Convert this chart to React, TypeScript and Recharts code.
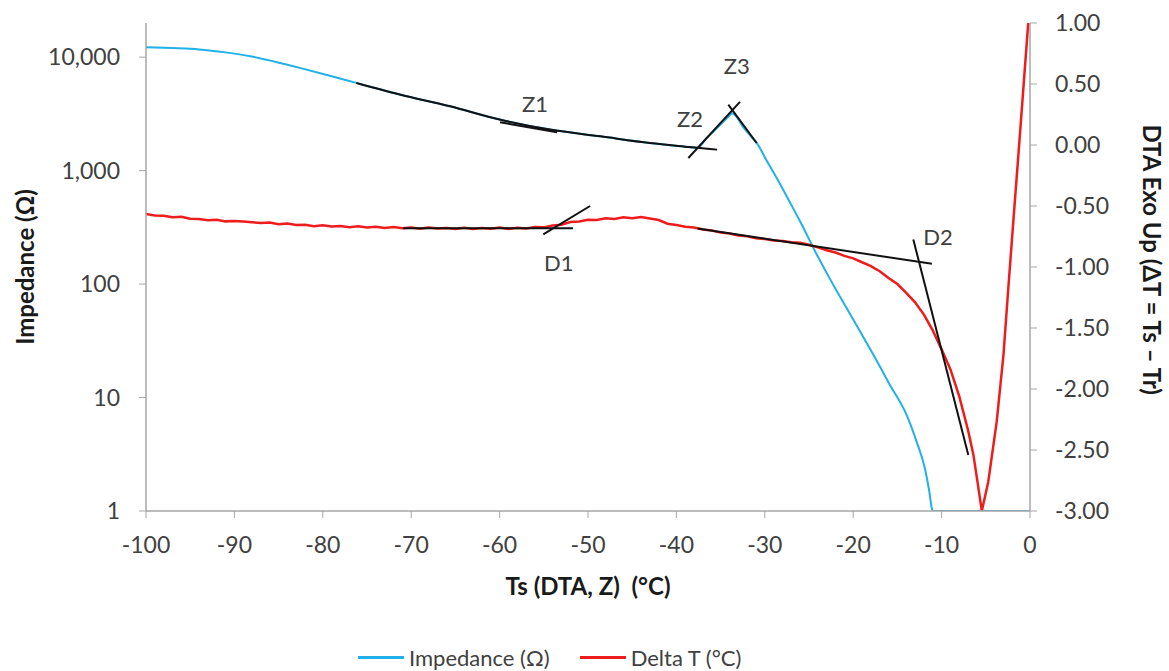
import { LineChart, Line, XAxis, YAxis, Legend, ReferenceDot } from 'recharts'

const xTicks = [-100, -90, -80, -70, -60, -50, -40, -30, -20, -10, 0]
const zTicks = [1, 10, 100, 1000, 10000]
const dtTicks = [-3, -2.5, -2, -1.5, -1, -0.5, 0, 0.5, 1]
const seriesOrder = ['Impedance (Ω)', 'Delta T (°C)']

// [Ts (°C), impedance (Ω)]
const impedance: [number, number][] = [
  [-100, 12250], [-97, 12020], [-94, 11700], [-91, 11020], [-88.2, 10200], [-85.4, 9120],
  [-82.6, 8050], [-79.4, 6920], [-76.2, 5930], [-71.3, 4690], [-65.6, 3690], [-60, 2820],
  [-54.3, 2300], [-48.6, 2005], [-43, 1750], [-38.5, 1610], [-37.6, 1590], [-36.7, 1890],
  [-35.7, 2255], [-34.7, 2690], [-34.1, 3000], [-33.7, 3200], [-33.3, 3050], [-32.5, 2455],
  [-31.5, 1977], [-30.9, 1750], [-29.8, 1230], [-28.65, 859], [-27.3, 550], [-26, 356],
  [-24.3, 194], [-22.6, 110], [-21.5, 77.6], [-19.2, 38], [-17.7, 23.7], [-15.84, 12.9],
  [-13.95, 7.0], [-12.82, 4.07], [-11.88, 2.36], [-11.4, 1.5], [-11.1, 1.05], [-11, 1],
  [-5, 1], [0, 1],
]

// [Ts (°C), ΔT (°C)]
const deltaT: [number, number][] = [
  [-100, -0.566], [-99, -0.578], [-98, -0.580], [-97, -0.592], [-96, -0.589], [-95, -0.605],
  [-94, -0.607], [-93, -0.617], [-92, -0.613], [-91, -0.626], [-90, -0.622], [-89, -0.628],
  [-88, -0.634], [-87, -0.639], [-86, -0.636], [-85, -0.650], [-84, -0.644], [-83, -0.656],
  [-82, -0.653], [-81, -0.665], [-80, -0.657], [-79, -0.668], [-78, -0.664], [-77, -0.675],
  [-76, -0.667], [-75, -0.676], [-74, -0.671], [-73, -0.681], [-72, -0.672], [-71, -0.682],
  [-70, -0.677], [-69, -0.687], [-68, -0.677], [-67, -0.685], [-66, -0.680], [-65, -0.689],
  [-64, -0.679], [-63, -0.688], [-62, -0.681], [-61, -0.687], [-60, -0.677], [-59, -0.688],
  [-58, -0.678], [-57, -0.684], [-56, -0.673], [-55, -0.675], [-54, -0.660], [-53, -0.653],
  [-52, -0.631], [-51, -0.627], [-50, -0.613], [-49, -0.614], [-48, -0.600], [-47, -0.607],
  [-46, -0.593], [-45, -0.601], [-44, -0.590], [-43, -0.603], [-42, -0.615], [-41, -0.645],
  [-40, -0.656], [-39, -0.670], [-38, -0.677], [-37, -0.693], [-36, -0.701], [-35, -0.718],
  [-34, -0.725], [-33, -0.742], [-32, -0.749], [-31, -0.764], [-30, -0.770], [-29, -0.783],
  [-28, -0.787], [-27, -0.798], [-26, -0.802], [-25, -0.818], [-24, -0.839], [-23, -0.863],
  [-22, -0.881], [-21, -0.909], [-20, -0.929], [-19, -0.961], [-18, -0.993], [-17, -1.035],
  [-16, -1.090], [-15, -1.140], [-14, -1.212], [-13, -1.290], [-12, -1.390], [-11, -1.520],
  [-10, -1.675], [-9, -1.840], [-8, -2.060], [-7, -2.340], [-6.4, -2.540], [-5.9, -2.780],
  [-5.45, -3.0], [-4.72, -2.76], [-3.77, -2.27], [-3, -1.72], [-2.45, -1.17], [-1.88, -0.62],
  [-1, 0.22], [-0.2, 1.0],
]

// construction lines on the impedance axis
const fitZ: [number, number][] = [
  [-76.2, 5930], [-71.3, 4690], [-65.6, 3690], [-60, 2820], [-54.3, 2300], [-48.6, 2005],
  [-43, 1750], [-38.5, 1615], [-35.4, 1531],
]
const tanZ1: [number, number][] = [[-59.95, 2667], [-53.5, 2177]]
const tanZ2: [number, number][] = [[-38.65, 1291], [-32.81, 4036]]
const tanZ3: [number, number][] = [[-34.13, 3821], [-30.92, 1751]]

// construction lines on the DTA axis
const tanD1a: [number, number][] = [[-70.9, -0.682], [-51.7, -0.682]]
const tanD1b: [number, number][] = [[-55.06, -0.733], [-49.77, -0.5]]
const tanD2a: [number, number][] = [[-37.6, -0.684], [-11.1, -0.974]]
const tanD2b: [number, number][] = [[-13.2, -0.774], [-6.98, -2.54]]

// [text, Ts, value, axis]
const marks: [string, number, number, string][] = [
  ['Z1', -56.0, 3820, 'z'],
  ['Z2', -38.46, 2818, 'z'],
  ['Z3', -33.18, 8330, 'z'],
  ['D1', -53.3, -0.969, 'dt'],
  ['D2', -10.4, -0.759, 'dt'],
]

const INK = '#404040'
const AXIS = '#a6a6a6'

const rows = (pts: [number, number][]) => pts.map(([t, v]) => ({ t, v }))

function LegendBox({ payload }: any) {
  const items = (payload || [])
    .filter((p: any) => p.type !== 'none')
    .sort((a: any, b: any) => seriesOrder.indexOf(a.value) - seriesOrder.indexOf(b.value))
  return (
    <div style={{ display: 'flex', alignItems: 'center', height: 28, paddingLeft: 358, fontSize: 22, color: INK }}>
      {items.map((p: any) => (
        <div key={p.value} style={{ display: 'flex', alignItems: 'center', marginRight: 30 }}>
          <span style={{ display: 'inline-block', width: 46, height: 3, background: p.color, marginRight: 5 }} />
          <span>{p.value}</span>
        </div>
      ))}
    </div>
  )
}

export default function App() {
  const blackLine = (pts: [number, number][], axis: string, key: string, curved = false) => (
    <Line
      key={key}
      data={rows(pts)}
      dataKey="v"
      yAxisId={axis}
      type={curved ? 'monotone' : 'linear'}
      stroke="#111"
      strokeWidth={2}
      dot={false}
      activeDot={false}
      legendType="none"
      isAnimationActive={false}
    />
  )

  return (
    <>
      <style>{'body{margin:0;overflow:hidden}'}</style>
      <LineChart
        width={1169}
        height={671}
        margin={{ top: 23, right: 0, bottom: 42, left: 0 }}
        style={{ fontFamily: 'Lato, sans-serif' }}
      >
        <XAxis
          type="number"
          dataKey="t"
          domain={[-100, 0]}
          ticks={xTicks}
          allowDataOverflow
          height={90}
          tickSize={7}
          tickMargin={19}
          tick={{ fill: INK, fontSize: 23 }}
          tickLine={{ stroke: AXIS }}
          axisLine={{ stroke: AXIS, strokeWidth: 1.5 }}
          label={{ value: 'Ts (DTA, Z)\u00a0 (°C)', position: 'insideBottom', offset: 6, fontSize: 24, fontWeight: 700, fill: '#1a1a1a' }}
        />
        <YAxis
          yAxisId="z"
          orientation="left"
          scale="log"
          domain={[1, 20000]}
          ticks={zTicks}
          allowDataOverflow
          width={146}
          tickSize={7}
          tickMargin={19}
          tickFormatter={(v: number) => v.toLocaleString('en-US')}
          tick={{ fill: INK, fontSize: 23 }}
          tickLine={{ stroke: AXIS }}
          axisLine={{ stroke: AXIS, strokeWidth: 1.5 }}
          label={{ value: 'Impedance (Ω)', angle: -90, position: 'center', dx: -48, fontSize: 24, fontWeight: 700, fill: '#1a1a1a' }}
        />
        <YAxis
          yAxisId="dt"
          orientation="right"
          domain={[-3, 1]}
          ticks={dtTicks}
          allowDataOverflow
          width={139}
          tickSize={7}
          tickMargin={18}
          tickFormatter={(v: number) => v.toFixed(2)}
          tick={{ fill: INK, fontSize: 23 }}
          tickLine={{ stroke: AXIS }}
          axisLine={{ stroke: AXIS, strokeWidth: 1.5 }}
          label={{ value: 'DTA Exo Up (ΔT = Ts – Tr)', angle: 90, position: 'center', dx: 52.5, dy: -7.4, fontSize: 24, fontWeight: 700, fill: '#1a1a1a' }}
        />
        <Legend
          verticalAlign="bottom"
          height={28}
          wrapperStyle={{ left: 0, top: 643, bottom: 'auto', width: 1169, height: 28 }}
          content={LegendBox}
        />
        <Line
          data={rows(impedance)}
          dataKey="v"
          name="Impedance (Ω)"
          yAxisId="z"
          type="monotone"
          stroke="#21b1e8"
          strokeWidth={2}
          dot={false}
          isAnimationActive={false}
        />
        <Line
          data={rows(deltaT)}
          dataKey="v"
          name="Delta T (°C)"
          yAxisId="dt"
          stroke="#ee1c1c"
          strokeWidth={2.5}
          dot={false}
          isAnimationActive={false}
        />
        {blackLine(fitZ, 'z', 'fitZ', true)}
        {blackLine(tanZ1, 'z', 'tanZ1')}
        {blackLine(tanZ2, 'z', 'tanZ2')}
        {blackLine(tanZ3, 'z', 'tanZ3')}
        {blackLine(tanD1a, 'dt', 'tanD1a')}
        {blackLine(tanD1b, 'dt', 'tanD1b')}
        {blackLine(tanD2a, 'dt', 'tanD2a')}
        {blackLine(tanD2b, 'dt', 'tanD2b')}
        {marks.map(([text, t, v, axis]) => (
          <ReferenceDot
            key={text}
            x={t}
            y={v}
            yAxisId={axis}
            r={0}
            fill="none"
            stroke="none"
            label={{ value: text, position: 'center', fontSize: 22, fill: INK }}
          />
        ))}
      </LineChart>
    </>
  )
}
